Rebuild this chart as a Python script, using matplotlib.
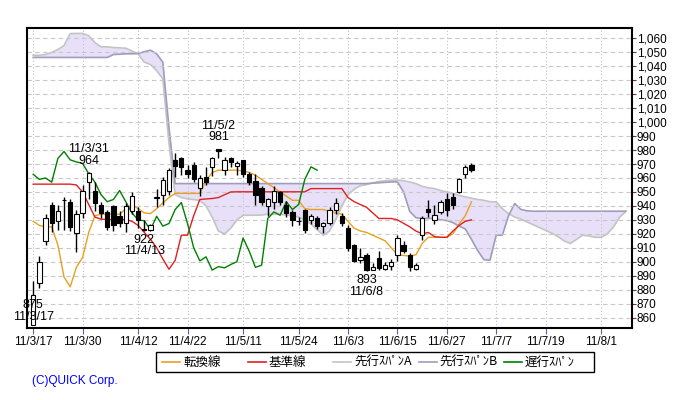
import numpy as np
import matplotlib.pyplot as plt
from matplotlib.lines import Line2D
from matplotlib.patches import Rectangle

plt.rcParams['font.family'] = ['Liberation Sans', 'Noto Sans CJK JP', 'DejaVu Sans']

# daily candles 11/3/17 .. 11/7/1 (index = trading day)
opens = [855, 885, 915, 940.5, 929, 944, 943, 920.7, 935, 957,
         950.5, 941, 935.7, 940, 933, 928, 936, 936, 923, 922.6,
         946, 947.7, 950.5, 973, 974, 965.6, 969, 953, 961, 968,
         981, 966, 974, 968.5, 972.8, 963, 958, 953, 940, 943,
         950, 940.5, 935.7, 929, 937.4, 930, 931, 925.5, 928, 937.4,
         933, 924.5, 912, 901, 905, 894, 903, 895, 897, 905,
         912, 905, 895, 919, 937.6, 929.7, 935.7, 944.6, 946.5, 950,
         963, 969]
highs = [886, 904, 934.5, 943, 940.5, 946.5, 945, 937, 955, 964,
         957, 943, 937, 940.5, 936, 942, 950, 939, 930, 927,
         952, 961, 967, 978, 975, 969, 971.6, 962, 968, 975,
         981, 975, 975, 972, 973, 964, 963, 954, 946, 954,
         951, 943.6, 937, 932, 938, 934.5, 932.6, 928.6, 939, 946,
         935, 926, 913, 910, 906, 899, 907.5, 900, 902, 919,
         915, 906, 899, 932.6, 944, 940.5, 944, 949, 949, 960,
         969, 970.4]
lows = [855, 881, 912, 921, 922.6, 923, 922, 907, 931, 945,
        936, 931, 922.6, 922, 925, 921, 934, 924, 922, 922,
        939, 940.5, 948, 961, 962, 960, 957, 947, 955, 961.5,
        974, 962, 968, 962, 961, 955, 941, 941, 933, 938,
        941, 932, 925.5, 926, 920.7, 927, 923.8, 920.7, 926, 934.5,
        925.5, 908, 900, 899, 893, 894, 894, 894, 894, 900.6,
        906, 893.5, 894, 915.4, 932, 927, 934.5, 933, 938, 949,
        960, 964]
closes = [876, 900, 931, 928, 936, 944.5, 925, 934.5, 951, 963.5,
          942.4, 935, 925, 926, 928, 940, 947, 930, 923.3, 926,
          946.3, 958.4, 965.6, 968.5, 968, 962.7, 959, 960, 957, 974,
          979, 973, 971.5, 970.5, 963, 957, 948, 943, 944.6, 951,
          943, 935, 930, 929.3, 923, 932.6, 925.5, 927.4, 937.4, 942.4,
          927.4, 910, 900.6, 903.5, 894, 896.5, 895.6, 898, 900, 917,
          907.5, 896, 897.5, 931, 935.7, 933.3, 943, 937.4, 941, 959,
          968, 965.6]

tenkan = [929, 926, 925, 925, 912, 889, 882, 896, 903, 921,
          933, 934, 934, 934, 934, 938, 941, 938, 935, 934.5,
          938, 942, 946, 949, 949, 949, 949, 949, 958, 964,
          965.6, 965.6, 965.6, 965.6, 965, 964, 962, 959, 956, 953,
          950, 947, 944, 944, 938, 937.4, 937.4, 937.4, 936, 935,
          934, 929, 924, 922, 921, 919, 917, 915, 910, 905,
          904.5, 904, 905, 913, 917.5, 917.5, 917.5, 917.5, 920, 927,
          933, 943]
kijun = [955.6, 955.6, 955.6, 955.6, 955.6, 955.6, 955.6, 955, 950, 941,
         932, 930.5, 930.2, 930.2, 930.2, 930.2, 929, 926, 921, 916,
         910, 902, 894.6, 901, 919, 919, 933, 944.6, 945, 945.3,
         946, 948, 950, 950.1, 950.1, 950.1, 950.1, 950.1, 950.1, 950.1,
         950.1, 950.1, 950.1, 950.1, 950.1, 952.4, 952.4, 952.4, 952.4, 952.4,
         952.4, 946, 943, 941, 939, 935, 931, 931, 931, 930,
         927.5, 925, 922, 920, 921, 918, 917.5, 917.5, 922, 926,
         929, 930]
span_a = [1048, 1048, 1048.5, 1050, 1052, 1055, 1063.5, 1063.6, 1063.6, 1062,
          1057, 1054, 1054, 1053.5, 1053.3, 1053, 1051, 1049, 1043, 1041.3,
          1037, 1031, 985, 948, 946, 945, 944.5, 944, 940, 932,
          922, 920, 924, 930, 933.3, 933.3, 933.3, 933.5, 934, 934,
          934, 933.5, 933, 932, 930, 927, 923, 919, 922, 930,
          940, 948, 952, 954.5, 955.3, 956.5, 957.5, 958, 958.5, 958.5,
          958, 957.2, 956, 954, 953, 952.4, 951, 950, 949, 947.5,
          946.5, 945.5, 944.6, 944, 943, 942.9, 938, 934.5, 932, 930.5,
          928.5, 926.5, 924.5, 922.5, 920.5, 918, 915, 913, 916, 919,
          918.5, 917.5, 917.5, 920, 925, 932, 936]
span_b = ([1046.4] * 13
          + [1048.5, 1048.7, 1049, 1049, 1049.2, 1050.5, 1051.6, 1049, 1043, 996]
          + [956] * 32
          + [956.3, 956.6, 956.9, 957.2, 957.2,
             950, 936, 931.5, 931, 931, 931, 930, 929.5, 928, 925.5,
             923.5, 916, 908, 901.5, 901.1, 919, 919, 933, 941.7, 937.5,
             936.5]
          + [936.2] * 16)

tick_idx = [0, 8, 17, 25, 34, 43, 51, 59, 67, 75, 83, 92]
tick_labels = ['11/3/17', '11/3/30', '11/4/12', '11/4/22', '11/5/11', '11/5/24',
               '11/6/3', '11/6/15', '11/6/27', '11/7/7', '11/7/19', '11/8/1']

# labelled highs / lows: (index, date, price)
hi_marks = [(9, '11/3/31', 964), (30, '11/5/2', 981)]
lo_marks = [(0, '11/3/17', 875), (18, '11/4/13', 922), (54, '11/6/8', 893)]

fig = plt.figure(figsize=(6.8, 4.0), dpi=100)
ax = fig.add_axes([27 / 680, 72 / 400, 605 / 680, 300 / 400])

n = len(closes)
x = np.arange(n)
xc = np.arange(len(span_a))
o = np.array(opens); c = np.array(closes)

ax.fill_between(xc, span_a, span_b, color='#e8e0f8', lw=0, zorder=1)
ax.plot(xc, span_a, color='#c4c4c4', lw=1.2, zorder=2)
ax.plot(xc, span_b, color='#a09cbc', lw=1.2, zorder=2)
ax.plot(x, tenkan, color='#e8a020', lw=1, zorder=3)
ax.plot(x, kijun, color='#e02020', lw=1, zorder=3)
chikou = c[25:]
ax.plot(np.arange(len(chikou)), chikou, color='#008000', lw=1, zorder=3)

ax.vlines(x, lows, highs, color='black', lw=1, zorder=4)
body_col = ['white' if cc >= oo else 'black' for oo, cc in zip(o, c)]
ax.bar(x, np.abs(c - o), bottom=np.minimum(o, c), width=0.7, color=body_col,
       edgecolor='black', linewidth=0.8, zorder=5)

for i, d, v in hi_marks:
    ax.annotate(f'{d}\n{v}', xy=(i, v), xytext=(0, 4),
                textcoords='offset points', ha='center', va='bottom',
                fontsize=9, linespacing=0.95, zorder=6)
for i, d, v in lo_marks:
    ax.annotate(f'{v}\n{d}', xy=(i, v), xytext=(0, -2),
                textcoords='offset points', ha='center', va='top',
                fontsize=9, linespacing=0.95, zorder=6)

ax.set_xlim(-1, 97)
ax.set_ylim(852.5, 1067.5)
ax.set_xticks(tick_idx)
ax.set_xticklabels(tick_labels)
yt = np.arange(860, 1061, 10)
ax.yaxis.tick_right()
ax.set_yticks(yt)
ax.set_yticklabels([f'{v:,}' for v in yt])
ax.tick_params(axis='x', length=4, color='#6060a0', pad=2, labelsize=8.5)
ax.tick_params(axis='y', length=3, color='#703050', pad=0.5, labelsize=8.5)
ax.set_axisbelow(False)
ax.grid(axis='y', linestyle=(0, (4, 3)), color='#c8c8c8', lw=0.8, zorder=1.5)
ax.grid(axis='x', linestyle=(0, (1, 2)), color='#c0c0c0', lw=0.8, zorder=1.5)
for s in ax.spines.values():
    s.set_linewidth(1.5)
    s.set_zorder(7)

# legend box
def fx(px):
    return px / 680

def fy(py):
    return 1 - py / 400

fig.add_artist(Rectangle((fx(156), fy(372)), fx(594) - fx(156), fy(352) - fy(372),
                         transform=fig.transFigure, fill=False, edgecolor='black', lw=1))
leg_names = ['転換線', '基準線', '先行ｽﾊﾟﾝA', '先行ｽﾊﾟﾝB', '遅行ｽﾊﾟﾝ']
leg_cols = ['#e8a020', '#e02020', '#c4c4c4', '#a09cbc', '#008000']
for k, (nm, cl) in enumerate(zip(leg_names, leg_cols)):
    x0 = 162 + k * 85.5
    fig.add_artist(Line2D([fx(x0), fx(x0 + 18)], [fy(362), fy(362)],
                          transform=fig.transFigure, color=cl, lw=1.2))
    fig.text(fx(x0 + 21), fy(362), nm, ha='left', va='center', fontsize=9,
             family=['Noto Sans CJK JP', 'DejaVu Sans'])

fig.text(fx(32), fy(381), '(C)QUICK Corp.', color='#0000ff', fontsize=8.5,
         ha='left', va='center')

fig.savefig('out.png', dpi=100)
